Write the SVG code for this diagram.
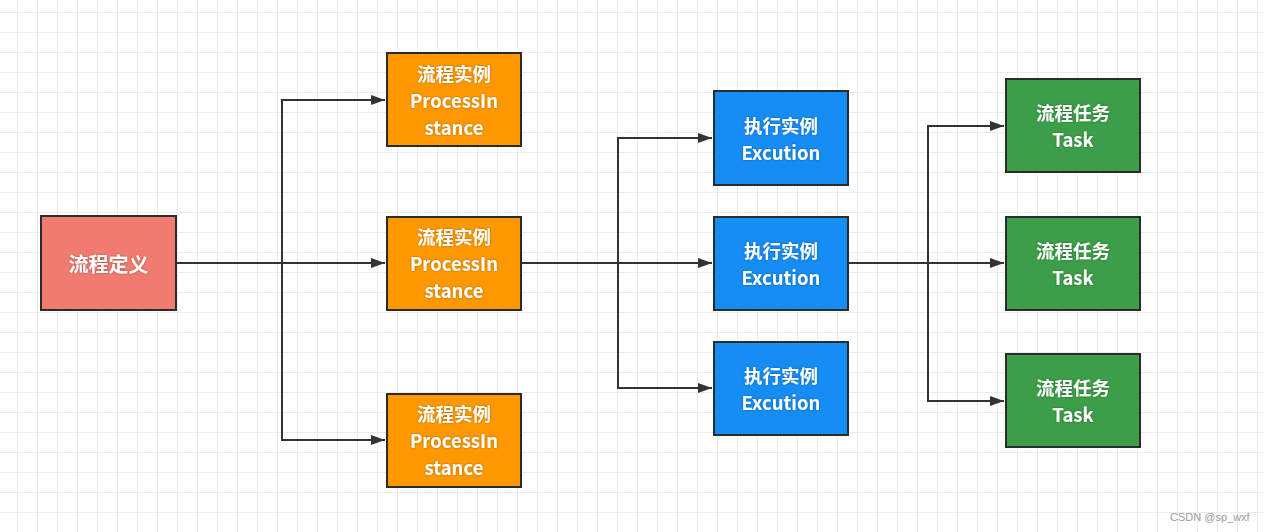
<svg xmlns="http://www.w3.org/2000/svg" width="1264" height="532" viewBox="0 0 1264 532">
  <style>
    .node rect { stroke: #2b2b2b; stroke-width: 2; }
    .red rect { fill: #f07b6e; }
    .orange rect { fill: #ff9800; }
    .blue rect { fill: #168cf5; }
    .green rect { fill: #3c9e48; }
    .node text { font-family: "Noto Sans CJK SC", "Microsoft YaHei", sans-serif; font-weight: bold; font-size: 18.5px; fill: #ffffff; text-anchor: middle; dominant-baseline: central; filter: url(#sh); }
    .conn path { fill: none; stroke: #333333; stroke-width: 2; }
    .wm { font-family: "Liberation Sans", Arial, sans-serif; font-size: 11px; fill: #9a9a9a; }
  </style>
  <defs>
    <pattern id="grid" patternUnits="userSpaceOnUse" x="17" y="12" width="20" height="20">
      <path d="M0 0.5 H20 M0.5 0 V20" fill="none" stroke="#ebebeb" stroke-width="1"/>
    </pattern>
    <marker id="arr" viewBox="0 0 14 10" refX="14" refY="5" markerWidth="14" markerHeight="10" markerUnits="userSpaceOnUse" orient="auto">
      <path d="M0 0 L14 5 L0 10 Z" fill="#333333"/>
    </marker>
    <filter id="sh" x="-10%" y="-20%" width="120%" height="140%">
      <feDropShadow dx="0" dy="0" stdDeviation="0.8" flood-color="#000000" flood-opacity="0.35"/>
    </filter>
  </defs>
  <rect width="1264" height="532" fill="#ffffff"/>
  <rect width="1264" height="532" fill="url(#grid)"/>

  <g id="connectors" class="conn">
    <path d="M176 263 H385" marker-end="url(#arr)"/>
    <path d="M282 263 V100 H385" marker-end="url(#arr)"/>
    <path d="M282 263 V440 H385" marker-end="url(#arr)"/>
    <path d="M521 263 H712" marker-end="url(#arr)"/>
    <path d="M618 263 V138 H712" marker-end="url(#arr)"/>
    <path d="M618 263 V388 H712" marker-end="url(#arr)"/>
    <path d="M848 263 H1004" marker-end="url(#arr)"/>
    <path d="M928 263 V126 H1004" marker-end="url(#arr)"/>
    <path d="M928 263 V401 H1004" marker-end="url(#arr)"/>
  </g>

  <g id="def" class="node red">
    <rect x="41" y="216" width="135" height="94"/>
    <text x="108.5" y="263" style="font-size:20px">流程定义</text>
  </g>

  <g id="pi1" class="node orange">
    <rect x="387" y="53" width="134" height="93"/>
    <text><tspan x="454" y="72.5">流程实例</tspan><tspan x="454" y="99.5">ProcessIn</tspan><tspan x="454" y="126.5">stance</tspan></text>
  </g>
  <g id="pi2" class="node orange">
    <rect x="387" y="217" width="134" height="93"/>
    <text><tspan x="454" y="236">流程实例</tspan><tspan x="454" y="263">ProcessIn</tspan><tspan x="454" y="290">stance</tspan></text>
  </g>
  <g id="pi3" class="node orange">
    <rect x="387" y="394" width="134" height="93"/>
    <text><tspan x="454" y="413">流程实例</tspan><tspan x="454" y="440">ProcessIn</tspan><tspan x="454" y="467">stance</tspan></text>
  </g>

  <g id="ex1" class="node blue">
    <rect x="714" y="91" width="134" height="94"/>
    <text><tspan x="781" y="124.5">执行实例</tspan><tspan x="781" y="151.5">Excution</tspan></text>
  </g>
  <g id="ex2" class="node blue">
    <rect x="714" y="217" width="134" height="93"/>
    <text><tspan x="781" y="250">执行实例</tspan><tspan x="781" y="277">Excution</tspan></text>
  </g>
  <g id="ex3" class="node blue">
    <rect x="714" y="342" width="134" height="93"/>
    <text><tspan x="781" y="375">执行实例</tspan><tspan x="781" y="402">Excution</tspan></text>
  </g>

  <g id="t1" class="node green">
    <rect x="1006" y="79" width="134" height="93"/>
    <text><tspan x="1073" y="112">流程任务</tspan><tspan x="1073" y="139">Task</tspan></text>
  </g>
  <g id="t2" class="node green">
    <rect x="1006" y="217" width="134" height="93"/>
    <text><tspan x="1073" y="250">流程任务</tspan><tspan x="1073" y="277">Task</tspan></text>
  </g>
  <g id="t3" class="node green">
    <rect x="1006" y="354" width="134" height="93"/>
    <text><tspan x="1073" y="387">流程任务</tspan><tspan x="1073" y="414">Task</tspan></text>
  </g>

  <text class="wm" x="1170" y="521">CSDN @sp_wxf</text>
</svg>
